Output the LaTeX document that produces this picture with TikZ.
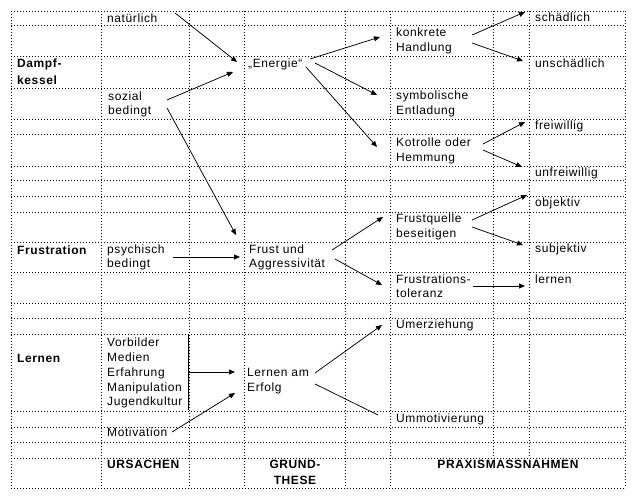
\documentclass[tikz,border=0pt]{standalone}
\usepackage{fontspec}
\setmainfont{Liberation Sans}[LetterSpace=5]
\usetikzlibrary{arrows.meta}
\begin{document}
\begin{tikzpicture}[x=1pt,y=-1pt,
  grid/.style={line width=0.7pt, dash pattern=on 0.8pt off 2.2pt},
  txt/.style={anchor=base west, inner sep=0pt, font=\fontsize{12}{15}\selectfont},
  bld/.style={txt, font=\fontsize{12}{15}\selectfont\bfseries},
  bldc/.style={bld, anchor=base},
  arr/.style={line width=0.75pt, -{Triangle[length=6pt,width=5pt]}},
  ln/.style={line width=0.75pt},
]
\useasboundingbox[fill=white] (0,0) rectangle (643,502);
% grid
\foreach \y in {11,25,56,88,119,134,166,180,196,212,242,272,303,318,334,411,427,442,458,488}
  \draw[grid] (11,\y) -- (625,\y);
\foreach \x in {11,101,189,244,345,390,625}
  \draw[grid] (\x,11) -- (\x,488);
\foreach \x in {493,529}
  \draw[grid] (\x,11) -- (\x,458);
% column 1
\node[bld] (dampfa) at (17,68) {Dampf-};
\node[bld] (dampfb) at (17,85) {kessel};
\node[bld] (frustration) at (17,255) {Frustration};
\node[bld] (lernen) at (17,363) {Lernen};
% column 2
\node[txt] (nat) at (107,23) {natürlich};
\node[txt] (soza) at (108,101) {sozial};
\node[txt] (sozb) at (108,115) {bedingt};
\node[txt] (psya) at (107,254) {psychisch};
\node[txt] (psyb) at (107,268) {bedingt};
\node[txt] (vorb) at (107,347) {Vorbilder};
\node[txt] (med) at (107,362) {Medien};
\node[txt] (erf) at (107,377) {Erfahrung};
\node[txt] (man) at (107,392) {Manipulation};
\node[txt] (jug) at (107,406) {Jugendkultur};
\node[txt] (mot) at (107,437) {Motivation};
\node[bld] (urs) at (107,469) {URSACHEN};
% column 3
\node[txt] (energie) at (248,68) {„Energie“};
\node[txt] (frusta) at (249,254) {Frust und};
\node[txt] (frustb) at (249,268) {Aggressivität};
\node[txt] (lama) at (247,377) {Lernen am};
\node[txt] (lamb) at (247,392) {Erfolg};
\node[bldc] (grunda) at (295,469) {GRUND-};
\node[bldc] (grundb) at (295,485) {THESE};
% column 4
\node[txt] (konka) at (396,37) {konkrete};
\node[txt] (konkb) at (396,52) {Handlung};
\node[txt] (syma) at (396,100) {symbolische};
\node[txt] (symb) at (396,115) {Entladung};
\node[txt] (kota) at (396,147) {Kotrolle oder};
\node[txt] (kotb) at (396,162) {Hemmung};
\node[txt] (fqa) at (396,223) {Frustquelle};
\node[txt] (fqb) at (396,238) {beseitigen};
\node[txt] (fta) at (396,284) {Frustrations-};
\node[txt] (ftb) at (396,298) {toleranz};
\node[txt] (umer) at (396,329) {Umerziehung};
\node[txt] (ummo) at (396,423) {Ummotivierung};
\node[bldc] (prax) at (508,469) {PRAXISMASSNAHMEN};
% column 6
\node[txt] (schad) at (535,22) {schädlich};
\node[txt] (unsch) at (535,68) {unschädlich};
\node[txt] (frei) at (535,130) {freiwillig};
\node[txt] (unfrei) at (535,177) {unfreiwillig};
\node[txt] (obj) at (535,207) {objektiv};
\node[txt] (subj) at (535,253) {subjektiv};
\node[txt] (lern) at (535,284) {lernen};
% connector end points
\coordinate (natO) at (175,13);   \coordinate (enI1) at (237,62);
\coordinate (sozO1) at (167,100); \coordinate (enI2) at (233,72);
\coordinate (sozO2) at (167,108); \coordinate (frI1) at (236,235);
\coordinate (psyO) at (173,257);  \coordinate (frI2) at (240,257);
\coordinate (enO1) at (310,59);   \coordinate (konkI) at (380,37);
\coordinate (enO2) at (315,63);   \coordinate (symI) at (377,95);
\coordinate (enO3) at (306,67);   \coordinate (kotI) at (377,147);
\coordinate (konkO1) at (472,35); \coordinate (schadI) at (525,12);
\coordinate (konkO2) at (472,43); \coordinate (unschI) at (523,61);
\coordinate (kotO1) at (483,144); \coordinate (freiI) at (525,122);
\coordinate (kotO2) at (483,150); \coordinate (unfreiI) at (522,167);
\coordinate (fqO1) at (472,220);  \coordinate (objI) at (527,195);
\coordinate (fqO2) at (472,227);  \coordinate (subjI) at (523,245);
\coordinate (frO1) at (332,250);  \coordinate (fqI) at (383,217);
\coordinate (frO2) at (335,259);  \coordinate (ftI) at (382,285);
\coordinate (ftO) at (473,286);   \coordinate (lernI) at (525,286);
\coordinate (laO1) at (315,373);  \coordinate (umerI) at (382,325);
\coordinate (laO2) at (315,384);  \coordinate (ummoE) at (378,415);
\coordinate (brT) at (188,335);   \coordinate (brB) at (188,410);
\coordinate (brM) at (188,372);   \coordinate (laI1) at (235,372);
\coordinate (motO) at (172,432);  \coordinate (laI2) at (235,393);
% connectors
\draw[arr] (natO) -- (enI1);
\draw[arr] (sozO1) -- (enI2);
\draw[arr] (sozO2) -- (frI1);
\draw[arr] (psyO) -- (frI2);
\draw[arr] (enO1) -- (konkI);
\draw[arr] (enO2) -- (symI);
\draw[arr] (enO3) -- (kotI);
\draw[arr] (konkO1) -- (schadI);
\draw[arr] (konkO2) -- (unschI);
\draw[arr] (kotO1) -- (freiI);
\draw[arr] (kotO2) -- (unfreiI);
\draw[arr] (fqO1) -- (objI);
\draw[arr] (fqO2) -- (subjI);
\draw[arr] (frO1) -- (fqI);
\draw[arr] (frO2) -- (ftI);
\draw[arr] (ftO) -- (lernI);
\draw[arr] (laO1) -- (umerI);
\draw[ln] (laO2) -- (ummoE);
\draw[ln] (brT) -- (brB);
\draw[arr] (brM) -- (laI1);
\draw[arr] (motO) -- (laI2);
\end{tikzpicture}
\end{document}
